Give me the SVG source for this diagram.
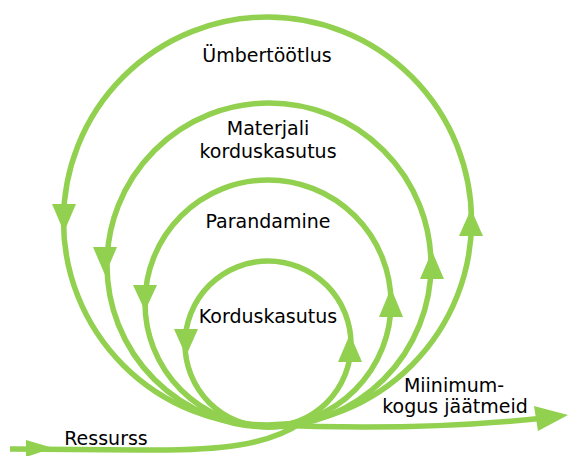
<svg xmlns="http://www.w3.org/2000/svg" width="568" height="456" viewBox="0 0 568 456">
<style>
.ln{fill:none;stroke:#92D050;stroke-width:5.5}
.ah{fill:#92D050;stroke:none}
text{font-family:"DejaVu Sans",Verdana,sans-serif;font-size:19px;fill:#000;text-anchor:middle}
</style>
<rect width="568" height="456" fill="#fff"/>
<g id="connectors">
<path class="ln" d="M10,449 L140,450 C220,451 270,445 302,422"/>
<path class="ln" d="M270,425 C360,429 450,428 545,418"/>
<polygon class="ah" points="26,440 26,457 53,448"/>
<polygon class="ah" points="534,406 538,431 568,415"/>
</g>
<g id="loop-umbertootlus">
<circle class="ln" cx="267.5" cy="221" r="204"/>
<polygon class="ah" points="52,204 76,204 64,232"/>
<polygon class="ah" points="459,236 483,236 471,209"/>
<text x="267" y="62">Ümbertöötlus</text>
</g>
<g id="loop-materjali">
<circle class="ln" cx="269" cy="265" r="162"/>
<polygon class="ah" points="93,247 117,247 105,275"/>
<polygon class="ah" points="420,279 444,279 432,251"/>
<text x="268" y="135">Materjali</text>
<text x="268" y="158">korduskasutus</text>
</g>
<g id="loop-parandamine">
<circle class="ln" cx="268" cy="303" r="123"/>
<polygon class="ah" points="133,285 157,285 145,311"/>
<polygon class="ah" points="379,317 403,317 391,288"/>
<text x="268" y="228">Parandamine</text>
</g>
<g id="loop-korduskasutus">
<circle class="ln" cx="268" cy="344" r="83"/>
<polygon class="ah" points="174,329 198,329 186,356"/>
<polygon class="ah" points="338,362 362,362 350,334"/>
<text x="268" y="323">Korduskasutus</text>
</g>
<g id="labels">
<text x="454" y="392">Miinimum-</text>
<text x="455" y="413">kogus jäätmeid</text>
<text x="106" y="445">Ressurss</text>
</g>
</svg>
